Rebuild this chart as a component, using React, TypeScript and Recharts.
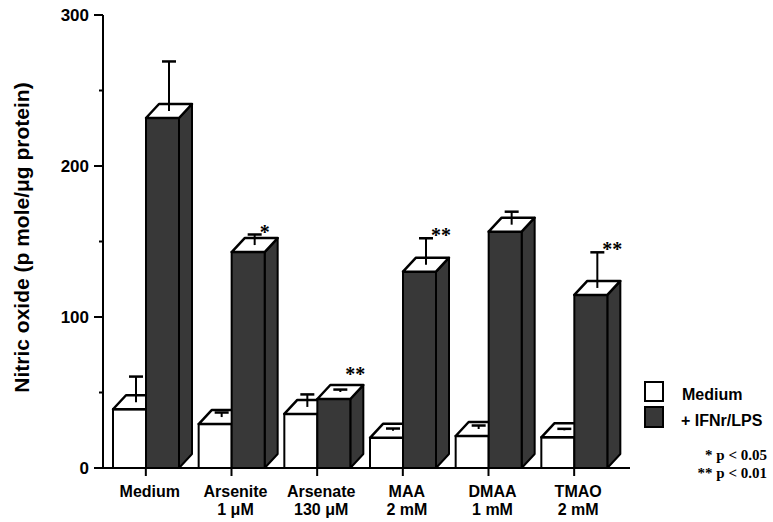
import React from 'react';
import { BarChart, Bar, XAxis, YAxis } from 'recharts';

const categories = ['Medium', 'Arsenite', 'Arsenate', 'MAA', 'DMAA', 'TMAO'];
const doses = ['', '1 μM', '130 μM', '2 mM', '1 mM', '2 mM'];
const mediumValues = [38.9, 29.1, 35.8, 20.0, 21.2, 20.3];
const mediumErrors = [17, 3, 8.3, 1.5, 2.3, 1];
const ifnValues = [231.8, 143, 45.7, 130, 156.5, 114.6];
const ifnErrors = [32.8, 7, 1.6, 17.5, 8.6, 23.6];
const significance = ['', '*', '**', '**', '', '**'];
const yTicks = [0, 50, 100, 150, 200, 250, 300];
const yLabelTicks = [0, 100, 200, 300];

const data = categories.map((name, i) => ({
  name,
  dose: doses[i],
  medium: mediumValues[i],
  mediumErr: mediumErrors[i],
  ifn: ifnValues[i],
  ifnErr: ifnErrors[i],
  sig: significance[i],
}));

const FONT = '"Liberation Sans", Arial, Helvetica, sans-serif';
const SERIF = '"Liberation Serif", "Times New Roman", serif';
const DX = 13;
const DY = 14;
const DARK = '#383838';

const makeShape = (valKey: string, errKey: string, dark: boolean, showSig: boolean) => (props: any) => {
  const { x, y, width, height, payload } = props;
  const val = payload[valKey];
  const err = payload[errKey];
  if (!val || !height) return <g />;
  const ppu = height / val;
  const base = y + height;
  const faceFill = dark ? DARK : '#ffffff';
  const ex = x + width / 2 + DX / 2;
  const ey0 = y - DY / 2;
  const errPx = err * ppu;
  const ey1 = ey0 - errPx;
  const sig = payload.sig;
  const sigY = errPx < 6 ? ey1 - 9 : ey1 + 4;
  return (
    <g>
      <polygon
        points={`${x + width},${base} ${x + width + DX},${base - DY} ${x + width + DX},${y - DY} ${x + width},${y}`}
        fill={faceFill}
        stroke="#000"
        strokeWidth={2}
        strokeLinejoin="round"
      />
      <rect x={x} y={y} width={width} height={height} fill={faceFill} stroke="#000" strokeWidth={2} />
      <polygon
        points={`${x},${y} ${x + DX},${y - DY} ${x + width + DX},${y - DY} ${x + width},${y}`}
        fill="#ffffff"
        stroke="#000"
        strokeWidth={2.5}
        strokeLinejoin="round"
      />
      <line x1={ex} y1={ey0} x2={ex} y2={ey1} stroke="#000" strokeWidth={2} />
      <line x1={ex - 7} y1={ey1} x2={ex + 7} y2={ey1} stroke="#000" strokeWidth={2.5} />
      {showSig && sig ? (
        <text x={ex + 5} y={sigY} fontFamily={SERIF} fontWeight="bold" fontSize={20} fill="#000">
          {sig}
        </text>
      ) : null}
    </g>
  );
};

const XTick = (props: any) => {
  const { x, y, payload } = props;
  const entry = data[payload.index] || data.find((d) => d.name === payload.value);
  return (
    <g>
      <line x1={x} y1={y} x2={x} y2={y + 8} stroke="#000" strokeWidth={2} />
      <text x={x + 4} y={y + 29} textAnchor="middle" fontFamily={FONT} fontWeight="bold" fontSize={16} fill="#000">
        {payload.value}
      </text>
      {entry && entry.dose ? (
        <text x={x + 4} y={y + 47} textAnchor="middle" fontFamily={FONT} fontWeight="bold" fontSize={16} fill="#000">
          {entry.dose}
        </text>
      ) : null}
    </g>
  );
};

const YTick = (props: any) => {
  const { x, y, payload } = props;
  const major = yLabelTicks.includes(payload.value);
  return (
    <g>
      <line x1={x - (major ? 9 : 4)} y1={y} x2={x} y2={y} stroke="#000" strokeWidth={2} />
      {major ? (
        <text x={x - 14} y={y + 6} textAnchor="end" fontFamily={FONT} fontWeight="bold" fontSize={17} fill="#000">
          {payload.value}
        </text>
      ) : null}
    </g>
  );
};

const YLabel = (props: any) => {
  const vb = props.viewBox || { x: 0, y: 0, width: 0, height: 0 };
  const cx = vb.x + 21;
  const cy = vb.y + vb.height / 2 - 4;
  return (
    <text
      x={cx}
      y={cy}
      transform={`rotate(-90 ${cx} ${cy})`}
      textAnchor="middle"
      dominantBaseline="central"
      fontFamily={FONT}
      fontWeight="bold"
      fontSize={21}
      fill="#000"
    >
      Nitric oxide (p mole/μg protein)
    </text>
  );
};

export default function App() {
  return (
    <div style={{ position: 'absolute', left: 0, top: 0, width: 773, height: 522 }}>
      <BarChart
        width={773}
        height={522}
        data={data}
        margin={{ top: 15, right: 143, bottom: 4, left: 0 }}
        barGap={0}
        barSize={33}
      >
        <XAxis
          dataKey="name"
          height={50}
          padding={{ left: 0, right: 13 }}
          axisLine={{ stroke: '#000', strokeWidth: 2 }}
          tickLine={false}
          tickSize={0}
          tickMargin={0}
          tick={<XTick />}
          interval={0}
        />
        <YAxis
          width={103}
          domain={[0, 300]}
          ticks={yTicks}
          interval={0}
          axisLine={{ stroke: '#000', strokeWidth: 2 }}
          tickLine={false}
          tickSize={0}
          tickMargin={0}
          tick={<YTick />}
          label={<YLabel />}
        />
        <Bar dataKey="medium" isAnimationActive={false} shape={makeShape('medium', 'mediumErr', false, false)} />
        <Bar dataKey="ifn" isAnimationActive={false} shape={makeShape('ifn', 'ifnErr', true, true)} />
      </BarChart>
      <svg
        width={135}
        height={110}
        style={{ position: 'absolute', left: 638, top: 378 }}
      >
        <rect x={7} y={4} width={18} height={19} fill="#fff" stroke="#000" strokeWidth={2} />
        <rect x={7} y={29} width={18} height={20} fill={DARK} stroke="#000" strokeWidth={2} />
        <text x={44} y={22} fontFamily={FONT} fontWeight="bold" fontSize={16} fill="#000">Medium</text>
        <text x={43} y={48} fontFamily={FONT} fontWeight="bold" fontSize={16} fill="#000">+ IFNr/LPS</text>
        <text x={129} y={82} textAnchor="end" fontFamily={SERIF} fontWeight="bold" fontSize={15} fill="#000">* p &lt; 0.05</text>
        <text x={129} y={100} textAnchor="end" fontFamily={SERIF} fontWeight="bold" fontSize={15} fill="#000">** p &lt; 0.01</text>
      </svg>
    </div>
  );
}
